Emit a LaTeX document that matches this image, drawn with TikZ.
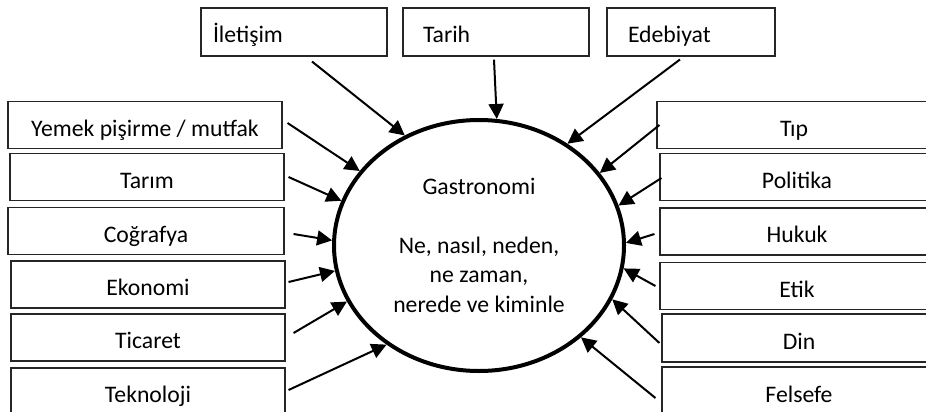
\documentclass[tikz,border=0pt]{standalone}
\usepackage{fontspec}
\setmainfont{Carlito}
\usetikzlibrary{arrows.meta,shapes.geometric}

\begin{document}
\begin{tikzpicture}[x=1pt,y=-1pt,>={Triangle[length=15pt,width=15pt]},font=\fontsize{23.7}{29.3}\selectfont]
\tikzset{
    b1/.style={%
        draw=black!85, line width=1.1pt,
        rectangle,
        minimum height=48pt,
        text height=22pt, text depth=0pt,
        align=left
        },
    b2/.style={%
        draw=black!85, line width=1.1pt,
        rectangle,
        minimum width=274pt,
        minimum height=47pt,
        text height=22pt, text depth=0pt
        },
    g1/.style={%
        draw, line width=4pt,
        ellipse,
        minimum width=290pt,
        minimum height=251pt,
        inner sep=0pt,
        align=center
        },
    a1/.style={->, line width=2pt},
}
\useasboundingbox (0,0) rectangle (926,412);
\clip (0,0) rectangle (926,412);
%%%TOP BOXES
\node[b1, inner xsep=12pt, text width=162pt] (ilet) at (294,32) {İletişim};
\node[b1, inner xsep=20pt, text width=146pt] (tarih) at (496,32) {Tarih};
\node[b1, inner xsep=21pt, text width=126pt] (edeb) at (691,32) {Edebiyat};
%%%LEFT BOXES
\node[b2] (yemek) at (145,125) {Yemek pişirme / mutfak};
\node[b2] (tarim) at (147,177) {Tarım};
\node[b2, minimum width=276pt] (cog) at (146,231) {Coğrafya};
\node[b2] (eko) at (148,284.5) {Ekonomi};
\node[b2] (tic) at (148,337.5) {Ticaret};
\node[b2] (tek) at (148,391.5) {Teknoloji};
%%%RIGHT BOXES
\node[b2] (tip) at (794,125) {Tıp};
\node[b2] (pol) at (797,177) {Politika};
\node[b2] (huk) at (797,231.5) {Hukuk};
\node[b2] (etik) at (797,286) {Etik};
\node[b2, minimum height=48pt] (din) at (799,338) {Din};
\node[b2, minimum height=48pt] (fels) at (799,391) {Felsefe};
%%%CENTER
\node[g1] (gastro) at (479,245.5) {Gastronomi\\[29.3pt]Ne, nasıl, neden,\\ne zaman,\\nerede ve kiminle};
%%%ARROWS
\draw[a1] ([xshift=18pt,yshift=-5pt]ilet.south) -- (gastro.124.5);
\draw[a1] ([xshift=-2pt,yshift=-3pt]tarih.south) -- (gastro.82.9);
\draw[a1] ([xshift=-11pt,yshift=-3pt]edeb.south) -- (gastro.49.7);
\draw[a1] ([xshift=5pt,yshift=2pt]yemek.east) -- (gastro.148.7);
\draw[a1] ([xshift=4pt]tarim.east) -- (gastro.162.4);
\draw[a1] ([xshift=9pt,yshift=-3pt]cog.east) -- (gastro.178.6);
\draw[a1] ([xshift=3pt,yshift=2.5pt]eko.east) -- (gastro.190.8);
\draw[a1] ([xshift=8pt,yshift=4.5pt]tic.east) -- (gastro.203.9);
\draw[a1] ([xshift=3pt,yshift=1.5pt]tek.east) -- (gastro.227.5);
\draw[a1] ([xshift=3pt]tip.west) -- (gastro.31.1);
\draw[a1] ([xshift=2pt,yshift=-1pt]pol.west) -- (gastro.16.4);
\draw[a1] ([xshift=-5pt,yshift=-2.5pt]huk.west) -- (gastro.1);
\draw[a1] ([xshift=-4pt]etik.west) -- (gastro.-9.7);
\draw[a1] ([xshift=-2pt,yshift=-5pt]din.west) -- (gastro.-22.2);
\draw[a1] ([xshift=-6pt,yshift=-7pt]fels.west) -- (gastro.-42.9);
\end{tikzpicture}
\end{document}
